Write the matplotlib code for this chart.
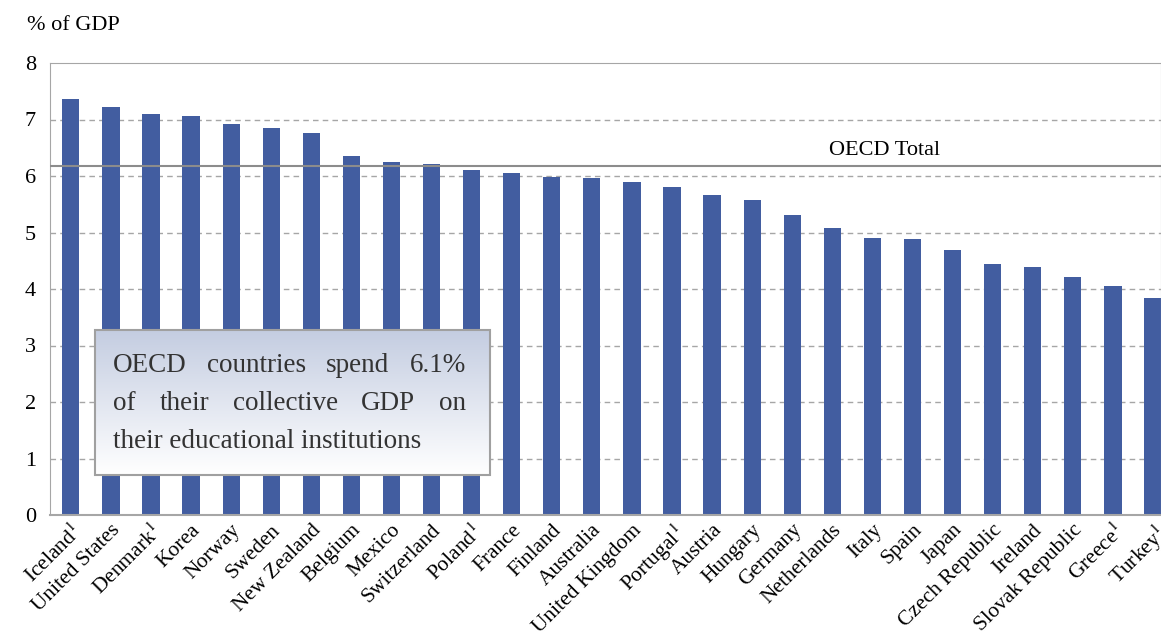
import matplotlib
matplotlib.use("Agg")
import matplotlib.pyplot as plt
import numpy as np
from matplotlib.patches import Rectangle

countries = ["Iceland$^1$", "United States", "Denmark$^1$", "Korea", "Norway", "Sweden",
             "New Zealand", "Belgium", "Mexico", "Switzerland", "Poland$^1$", "France",
             "Finland", "Australia", "United Kingdom", "Portugal$^1$", "Austria", "Hungary",
             "Germany", "Netherlands", "Italy", "Spain", "Japan", "Czech Republic",
             "Ireland", "Slovak Republic", "Greece$^1$", "Turkey$^1$"]
values = [7.36, 7.22, 7.10, 7.06, 6.92, 6.85, 6.76, 6.35, 6.25, 6.21, 6.11, 6.05,
          5.98, 5.96, 5.89, 5.81, 5.66, 5.58, 5.31, 5.08, 4.90, 4.88, 4.69, 4.44,
          4.39, 4.21, 4.05, 3.84]
oecd_total = 6.17
yticks = [0, 1, 2, 3, 4, 5, 6, 7, 8]

plt.rcParams['font.family'] = ['Liberation Serif', 'DejaVu Serif']
plt.rcParams['mathtext.fontset'] = 'stix'

W, H = 1161, 644
fig = plt.figure(figsize=(W / 100, H / 100), dpi=100)
ax = fig.add_axes([50 / W, 1 - 515 / H, 1111 / W, 452 / H])

x = np.arange(len(countries))
ax.bar(x, values, width=0.43, color="#425da0", zorder=2)
ax.set_xlim(-0.52, 27.2)
ax.set_ylim(0, 8)
ax.set_yticks(yticks)
ax.set_yticklabels([str(t) for t in yticks], fontsize=16)
for t in yticks[1:-1]:
    ax.axhline(t, color="#a6a6a6", lw=1, ls=(0, (4, 3)), zorder=1)
ax.axhline(oecd_total, color="#8c8c8c", lw=1.5, zorder=3)
ax.text(20.3, oecd_total + 0.12, "OECD Total", fontsize=16, ha="center", va="bottom")

ax.set_xticks(x)
ax.set_xticklabels(countries, rotation=45, ha="right", rotation_mode="anchor", fontsize=15.5)
ax.tick_params(axis="y", length=0, pad=10)
ax.tick_params(axis="x", length=0, pad=4)
for s in ax.spines.values():
    s.set_color("#a6a6a6")
ax.spines["bottom"].set_linewidth(1.5)

fig.text(27 / W, 1 - 25 / H, "% of GDP", fontsize=16, ha="left", va="center")

# gradient box
bx0, bx1 = (95 - 50) / 1111, (490 - 50) / 1111
by0, by1 = (515 - 475) / 452, (515 - 330) / 452
grad = np.linspace(0, 1, 256).reshape(-1, 1)
top = np.array([0xc4, 0xcd, 0xe1]) / 255
bot = np.array([1.0, 1.0, 1.0])
img = top[None, None, :] * (1 - grad[:, :, None]) + bot[None, None, :] * grad[:, :, None]
ax.imshow(img, extent=[bx0, bx1, by0, by1], transform=ax.transAxes, aspect="auto",
          zorder=5, origin="upper")
ax.add_patch(Rectangle((bx0, by0), bx1 - bx0, by1 - by0, transform=ax.transAxes,
                       fill=False, ec="#a0a0a0", lw=1.5, zorder=6))

lines = ["OECD countries spend 6.1%", "of their collective GDP on",
         "their educational institutions"]
justify = [True, True, False]
fig.canvas.draw()
renderer = fig.canvas.get_renderer()
left_px, right_px = 113, 466
line_y = [365, 404, 441]
fs = 19.5
for ln, just, yy in zip(lines, justify, line_y):
    words = ln.split(" ")
    if not just:
        fig.text(left_px / W, 1 - yy / H, ln, fontsize=fs, color="#333333",
                 ha="left", va="center", zorder=10)
        continue
    tobjs = []
    widths = []
    for w in words:
        t = fig.text(0, 0, w, fontsize=fs, color="#333333", va="center", zorder=10)
        bb = t.get_window_extent(renderer)
        widths.append(bb.width)
        tobjs.append(t)
    gap = (right_px - left_px - sum(widths)) / (len(words) - 1)
    cx = left_px
    for t, wd in zip(tobjs, widths):
        t.set_position((cx / W, 1 - yy / H))
        cx += wd + gap

fig.savefig("out.png", dpi=100)
